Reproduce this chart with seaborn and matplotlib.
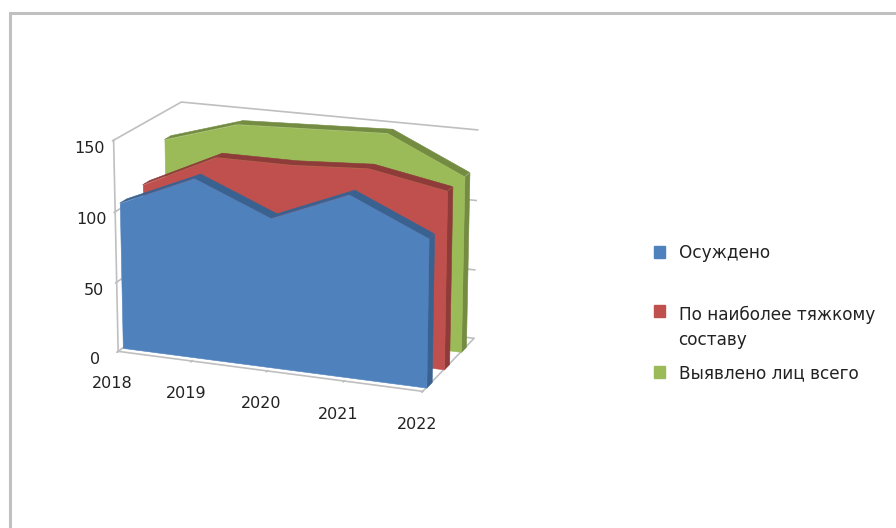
import numpy as np
import matplotlib
matplotlib.use("Agg")
import matplotlib.pyplot as plt
import seaborn as sns
from matplotlib.patches import Rectangle

sns.set_theme(style="white")
plt.rcParams['font.family'] = ['DejaVu Sans']

years = ["2018", "2019", "2020", "2021", "2022"]
names = ["Осуждено", "По наиболее тяжкому\nсоставу", "Выявлено лиц всего"]
convicted = [104, 127, 105, 127, 103]
gravest = [107, 132, 132, 135, 125]
total = [130, 146, 148, 150, 125]
colors = ["#4F81BD", "#C0504D", "#9BBB59"]
sides = ["#3A6291", "#8E3B39", "#748C42"]
zticks = [0, 50, 100, 150]

fig = plt.figure(figsize=(8.96, 5.28), dpi=100)
fig.add_artist(Rectangle((9.5/896, -0.1), 1.0, 1.1-13/528, fill=False, ec="#C0C0C0", lw=2.2,
                         transform=fig.transFigure))
ax = fig.add_axes([-0.0056, 0.0553, 0.66, 0.95], projection="3d", computed_zorder=False)
ax.set_proj_type("persp", focal_length=0.95)
ax.view_init(elev=17, azim=-69)
ax.set_box_aspect((3.29, 1.7, 2.24), zoom=0.82)

x = np.arange(len(years))
series = [convicted, gravest, total]
for i in [2, 1, 0]:
    vals = np.array(series[i], float)
    y0 = i + 0.2
    y1 = i + 0.5
    zero = np.zeros_like(vals)
    z_order = 10 + 3 * (2 - i)
    X = np.vstack([x, x])
    Y = np.vstack([np.full_like(vals, y0), np.full_like(vals, y1)])
    Z = np.vstack([vals, vals])
    ax.plot_surface(X, Y, Z, color=sides[i], shade=False, zorder=z_order, rstride=1, cstride=1,
                    linewidth=0.4, edgecolor=sides[i])
    ax.plot_surface(np.full((2, 2), x[-1]), np.array([[y0, y1], [y0, y1]]),
                    np.array([[0, 0], [vals[-1], vals[-1]]]),
                    color=sides[i], shade=False, zorder=z_order + 1, linewidth=0.4, edgecolor=sides[i])
    ax.fill_between(x, y0, zero, x, y0, vals, color=colors[i], shade=False, zorder=z_order + 2,
                    linewidth=0.4, edgecolor=colors[i])

ax.set_xlim(0, 4)
ax.set_ylim(0, 3)
ax.set_zlim(0, 150)
ax.set_xticks(x, years, fontsize=11.5)
ax.set_yticks([])
ax.set_zticks(zticks, [str(t) for t in zticks], fontsize=11.5)
ax.zaxis.set_ticks_position("lower")
ax.xaxis.set_pane_color((1, 1, 1, 0))
ax.yaxis.set_pane_color((1, 1, 1, 0))
ax.zaxis.set_pane_color((1, 1, 1, 0))
for a in (ax.xaxis, ax.yaxis, ax.zaxis):
    a.line.set_color("#BFBFBF")
    a.line.set_linewidth(1.2)
    a._axinfo["grid"]["linewidth"] = 0
ax.zaxis._axinfo["grid"]["linewidth"] = 1.2
ax.zaxis._axinfo["grid"]["color"] = "#BFBFBF"
ax.xaxis._axinfo["grid"]["color"] = (1, 1, 1, 0)
ax.yaxis._axinfo["grid"]["color"] = (1, 1, 1, 0)
ax.grid(True)
ax.tick_params(axis="both", color="#BFBFBF", labelcolor="#222222", pad=2)
ax.tick_params(axis="x", pad=10)
ax.tick_params(axis="z", color="#BFBFBF", labelcolor="#222222", pad=4)
ax.patch.set_alpha(0)

legend_tops = [244, 306, 364]
for name, color, top in zip(names, colors, legend_tops):
    leg = fig.legend([Rectangle((0, 0), 1, 1, color=color)], [name], loc="upper left",
                     bbox_to_anchor=(654/896, 1 - top/528), frameon=False, borderpad=0,
                     borderaxespad=0, fontsize=12.2, handlelength=0.65, handleheight=0.65,
                     handletextpad=0.8)
    for t in leg.get_texts():
        t.set_linespacing(1.5)
        t.set_color("#222222")
    if "\n" in name:
        leg.legend_handles[0].set_y(13)
fig.savefig("out.png", dpi=100)
